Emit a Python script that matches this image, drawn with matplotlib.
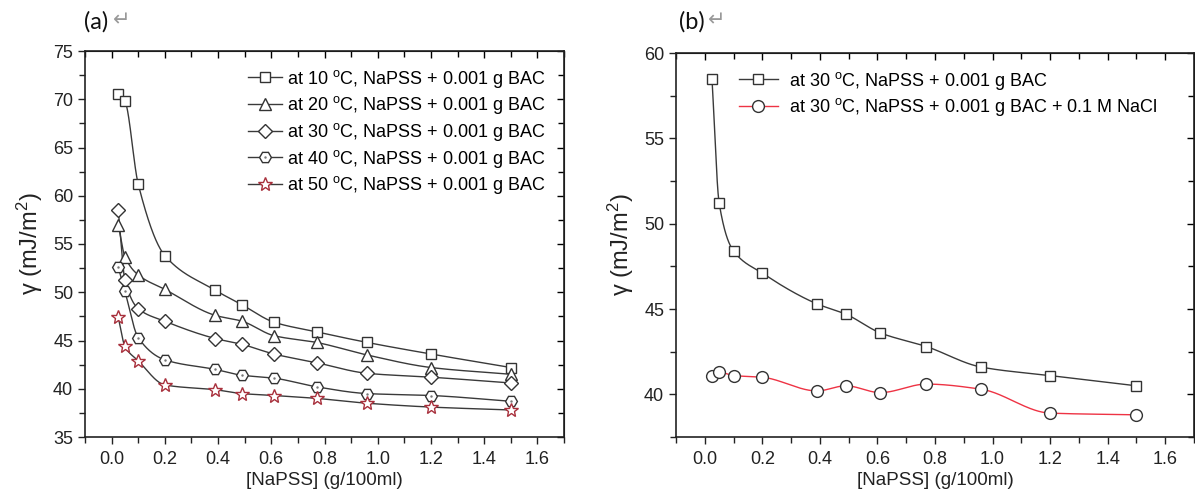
import numpy as np
import matplotlib
matplotlib.use("Agg")
import matplotlib.pyplot as plt
from matplotlib.ticker import MultipleLocator
from matplotlib.lines import Line2D

plt.rcParams['font.family'] = ['Liberation Sans', 'DejaVu Sans']
plt.rcParams['mathtext.fontset'] = 'custom'
plt.rcParams['mathtext.rm'] = 'Liberation Sans'
plt.rcParams['mathtext.it'] = 'Liberation Sans:italic'

# концентрация NaPSS (g/100ml)
conc = [0.025, 0.05, 0.1, 0.2, 0.39, 0.49, 0.61, 0.77, 0.96, 1.2, 1.5]

# (a) поверхностное натяжение при разных температурах
g10 = [70.5, 69.8, 61.2, 53.8, 50.2, 48.7, 46.9, 45.9, 44.8, 43.6, 42.2]
g20 = [57.0, 53.7, 51.8, 50.3, 47.6, 47.0, 45.5, 44.8, 43.5, 42.2, 41.5]
g30 = [58.5, 51.3, 48.3, 47.0, 45.2, 44.6, 43.6, 42.7, 41.6, 41.2, 40.6]
g40 = [52.6, 50.1, 45.3, 43.0, 42.0, 41.4, 41.1, 40.2, 39.5, 39.3, 38.7]
g50 = [47.4, 44.4, 42.9, 40.4, 39.9, 39.5, 39.3, 39.0, 38.5, 38.1, 37.8]
labels_a = ['at 10 $^{\\mathrm{o}}$C, NaPSS + 0.001 g BAC',
            'at 20 $^{\\mathrm{o}}$C, NaPSS + 0.001 g BAC',
            'at 30 $^{\\mathrm{o}}$C, NaPSS + 0.001 g BAC',
            'at 40 $^{\\mathrm{o}}$C, NaPSS + 0.001 g BAC',
            'at 50 $^{\\mathrm{o}}$C, NaPSS + 0.001 g BAC']

# (b) при 30 °C без и с NaCl
b_bac = [58.5, 51.2, 48.4, 47.1, 45.3, 44.7, 43.6, 42.8, 41.6, 41.1, 40.5]
b_nacl = [41.1, 41.3, 41.1, 41.0, 40.2, 40.5, 40.1, 40.6, 40.3, 38.9, 38.8]
labels_b = ['at 30 $^{\\mathrm{o}}$C, NaPSS + 0.001 g BAC',
            'at 30 $^{\\mathrm{o}}$C, NaPSS + 0.001 g BAC + 0.1 M NaCl']

LINE = '#3a3a3a'
EDGE = '#333333'
STAR = '#a8303c'
RED = '#ee3344'


# гладкая кривая через точки (монотонный эрмитов сплайн)
def smooth(x, y, n=60):
    x = np.asarray(x, float)
    y = np.asarray(y, float)
    h = np.diff(x)
    d = np.diff(y) / h
    m = np.zeros_like(y)
    m[0], m[-1] = d[0], d[-1]
    for k in range(1, len(x) - 1):
        if d[k - 1] * d[k] > 0:
            w1 = 2 * h[k] + h[k - 1]
            w2 = h[k] + 2 * h[k - 1]
            m[k] = (w1 + w2) / (w1 / d[k - 1] + w2 / d[k])
    xs, ys = [], []
    for k in range(len(x) - 1):
        t = np.linspace(0, 1, n)
        h00 = 2 * t**3 - 3 * t**2 + 1
        h10 = t**3 - 2 * t**2 + t
        h01 = -2 * t**3 + 3 * t**2
        h11 = t**3 - t**2
        xs.append(x[k] + t * h[k])
        ys.append(h00 * y[k] + h10 * h[k] * m[k] + h01 * y[k + 1] + h11 * h[k] * m[k + 1])
    return np.concatenate(xs), np.concatenate(ys)


def style_axes(ax, ymaj, ymin_):
    ax.xaxis.set_major_locator(MultipleLocator(0.2))
    ax.xaxis.set_minor_locator(MultipleLocator(0.1))
    ax.yaxis.set_major_locator(MultipleLocator(ymaj))
    ax.yaxis.set_minor_locator(MultipleLocator(ymin_))
    ax.tick_params(which='both', direction='out', labelsize=13, width=1, colors='#222222')
    ax.tick_params(which='major', length=5)
    ax.tick_params(which='minor', length=4)
    ax.tick_params(axis='x', which='major', pad=5)
    for s in ax.spines.values():
        s.set_linewidth(1.2)
        s.set_color('#222222')
    top = ax.secondary_xaxis('top')
    top.xaxis.set_major_locator(MultipleLocator(0.2))
    top.xaxis.set_minor_locator(MultipleLocator(0.1))
    top.tick_params(which='both', direction='in', labeltop=False, width=1, length=5)
    top.tick_params(which='minor', length=4)
    right = ax.secondary_yaxis('right')
    right.yaxis.set_major_locator(MultipleLocator(ymaj))
    right.yaxis.set_minor_locator(MultipleLocator(ymin_))
    right.tick_params(which='both', direction='in', labelright=False, width=1, length=5)
    right.tick_params(which='minor', length=4)
    ax.set_xlim(-0.1, 1.7)
    ax.set_xlabel('[NaPSS] (g/100ml)', fontsize=13.5, color='#222222', labelpad=3)
    ax.set_ylabel('γ (mJ/m$^2$)', fontsize=17, color='#222222', labelpad=6)


fig = plt.figure(figsize=(11.95, 4.95), dpi=100)
ax1 = fig.add_axes([85 / 1195, 58 / 495, 479 / 1195, 386 / 495])
ax2 = fig.add_axes([676 / 1195, 58 / 495, 518 / 1195, 384 / 495])

# --- (a)
series_a = [(g10, 's', 7.2, EDGE), (g20, '^', 8.5, EDGE), (g30, 'D', 7.0, EDGE),
            (g40, 'H', 8.5, EDGE), (g50, '*', 10.5, STAR)]
handles = []
for (ys, mk, ms, ec), lab in zip(series_a, labels_a):
    sx, sy = smooth(conc, ys)
    ax1.plot(sx, sy, color=LINE, lw=1.0, zorder=2)
    ax1.plot(conc, ys, ls='none', marker=mk, ms=ms, mfc='white', mec=ec, mew=1.0, zorder=3)
    h = Line2D([], [], color=LINE, lw=1.0, marker=mk, ms=ms, mfc='white', mec=ec, mew=1.0)
    if mk == 'H':
        ax1.plot(conc, ys, ls='none', marker='.', ms=1.5, color='#777777', zorder=4)
        h = (h, Line2D([], [], ls='none', marker='.', ms=1.5, color='#777777'))
    handles.append(h)
ax1.set_ylim(35, 75)
style_axes(ax1, 5, 2.5)
ax1.legend(handles, labels_a, loc='upper right', bbox_to_anchor=(0.985, 0.985), frameon=False,
           fontsize=13, handlelength=1.9, handletextpad=0.3, labelspacing=0.26,
           borderaxespad=0.2)

# --- (b)
sx, sy = smooth(conc, b_bac)
ax2.plot(sx, sy, color=LINE, lw=1.0, zorder=2)
ax2.plot(conc, b_bac, ls='none', marker='s', ms=7.2, mfc='white', mec=EDGE, mew=1.0, zorder=3)
sx, sy = smooth(conc, b_nacl)
ax2.plot(sx, sy, color=RED, lw=1.0, zorder=2)
ax2.plot(conc, b_nacl, ls='none', marker='o', ms=8.5, mfc='white', mec=EDGE, mew=1.0, zorder=3)
hb = [Line2D([], [], color=LINE, lw=1.0, marker='s', ms=7.2, mfc='white', mec=EDGE),
      Line2D([], [], color=RED, lw=1.0, marker='o', ms=8.5, mfc='white', mec=EDGE)]
ax2.set_ylim(37.5, 60)
style_axes(ax2, 5, 2.5)
ax2.legend(hb, labels_b, loc='upper left', bbox_to_anchor=(0.1, 0.985), frameon=False,
           fontsize=13, handlelength=2.2, handletextpad=0.6, labelspacing=0.26,
           borderaxespad=0.2)

# подписи панелей
for x0, t in [(84, '(a)'), (679, '(b)')]:
    fig.text(x0 / 1195, 1 - 22 / 495, t, fontsize=17, family=['Lato', 'DejaVu Sans'],
             ha='left', va='center', color='#111111')
    fig.text((x0 + 29) / 1195, 1 - 20 / 495, '\u21b5', fontsize=15, family=['DejaVu Sans'],
             ha='left', va='center', color='#999999')

fig.savefig('out.png', dpi=100, facecolor='white')
